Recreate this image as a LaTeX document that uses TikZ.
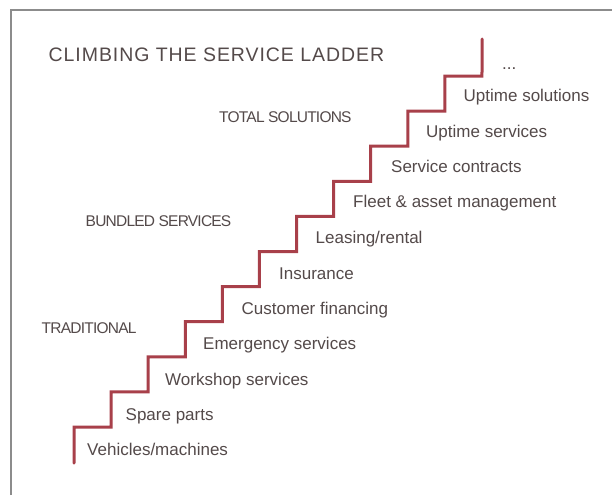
\documentclass[tikz,border=0pt]{standalone}
\usepackage{fontspec}
\setmainfont{Liberation Sans}
\newfontfamily\titlefont[LetterSpace=4.8]{Liberation Sans}
\newfontfamily\headfont[LetterSpace=-5]{Liberation Sans}
\definecolor{stairred}{RGB}{168,64,74}
\definecolor{txtgray}{RGB}{84,74,74}
\definecolor{framegray}{RGB}{140,140,140}
\begin{document}
\begin{tikzpicture}[x=1pt,y=-1pt,
  frameline/.style={draw=framegray,line width=1.4pt},
  stair/.style={draw=stairred,line width=3pt,line join=miter,line cap=round},
  steplabel/.style={anchor=base west,inner sep=0pt,text=txtgray,font=\fontsize{17}{20}\selectfont},
  headlabel/.style={anchor=base west,inner sep=0pt,text=txtgray,font=\headfont\fontsize{15.5}{18}\selectfont},
  titlelabel/.style={anchor=base west,inner sep=0pt,text=txtgray,font=\titlefont\fontsize{19.5}{22}\selectfont}]
\useasboundingbox (0,0) rectangle (612,495);
\fill[white] (0,0) rectangle (612,495);
\draw[frameline] (11,495) -- (11,10) -- (612,10);
% stairs
\coordinate (sbot) at (74,463);
\coordinate (stop) at (482,39);
\draw[stair] (sbot)
  \foreach \i in {0,...,10} { -- ({74+37.09*\i},{427-35.1*\i}) -- ({74+37.09*(\i+1)},{427-35.1*\i}) }
  -- (stop);
% title and headers
\node[titlelabel] (title) at (48.5,62) {CLIMBING THE SERVICE LADDER};
\node[headlabel] (htotal) at (219,122) {TOTAL SOLUTIONS};
\node[headlabel] (hbundled) at (85.5,226.7) {BUNDLED SERVICES};
\node[headlabel] (htrad) at (41.5,333.7) {TRADITIONAL};
% step labels
\node[steplabel] (l0) at (87,455) {Vehicles/machines};
\node[steplabel] (l1) at (125.5,420) {Spare parts};
\node[steplabel] (l2) at (165,385) {Workshop services};
\node[steplabel] (l3) at (203,349) {Emergency services};
\node[steplabel] (l4) at (241.5,314) {Customer financing};
\node[steplabel] (l5) at (279,279.3) {Insurance};
\node[steplabel] (l6) at (315.5,243.3) {Leasing/rental};
\node[steplabel] (l7) at (353,207.7) {Fleet \& asset management};
\node[steplabel] (l8) at (391,172.7) {Service contracts};
\node[steplabel] (l9) at (426,137.3) {Uptime services};
\node[steplabel] (l10) at (463.5,101.7) {Uptime solutions};
\node[steplabel] (l11) at (502,70) {...};
\end{tikzpicture}
\end{document}
